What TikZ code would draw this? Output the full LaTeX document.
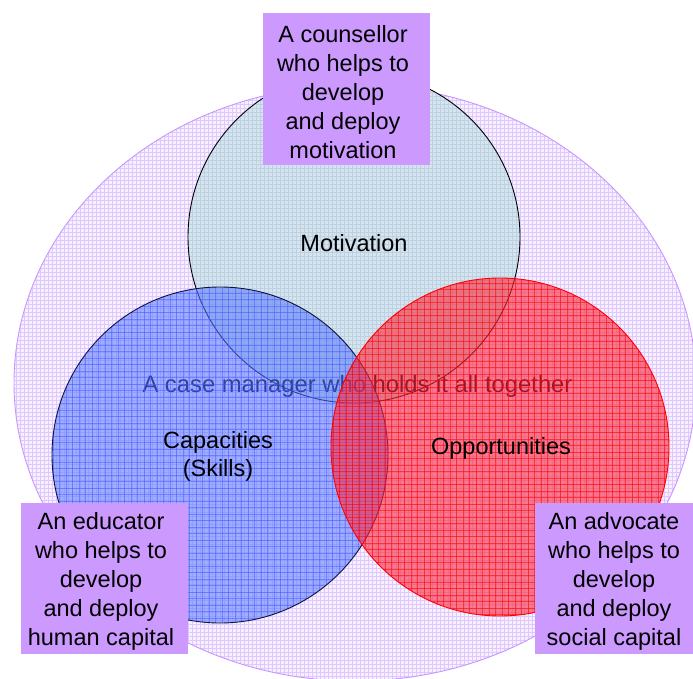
\documentclass[tikz,border=0pt]{standalone}
\usepackage{fontspec}
\setmainfont{Liberation Sans}
\definecolor{boxc}{RGB}{204,153,255}
\definecolor{ellfill}{RGB}{246,240,255}
\definecolor{ellgrid}{RGB}{222,200,255}
\definecolor{ellline}{RGB}{200,150,255}
\definecolor{motfill}{RGB}{214,228,238}
\definecolor{motgrid}{RGB}{188,210,228}
\definecolor{capfill}{RGB}{90,120,255}
\definecolor{capgrid}{RGB}{60,90,255}
\definecolor{oppfill}{RGB}{255,40,60}
\definecolor{oppgrid}{RGB}{255,0,0}
\definecolor{casetext}{RGB}{0,0,30}
\begin{document}
\begin{tikzpicture}[x=1pt,y=-1pt,
  boxrect/.style={fill=boxc, draw=none, inner sep=0pt, minimum width=167pt, minimum height=152pt},
  boxtxt/.style={align=center, inner sep=0pt, font=\fontsize{23.5}{29}\selectfont, text=black},
  lbl/.style={align=center, inner sep=0pt, font=\fontsize{23.5}{28}\selectfont, text=black}]
\useasboundingbox (0,0) rectangle (693,679);
\clip (0,0) rectangle (693,679);

% big ellipse
\begin{scope}
  \clip (355,383) ellipse [x radius=341, y radius=298];
  \fill[ellfill] (0,0) rectangle (700,700);
  \foreach \i in {0,4,...,700} {
    \draw[ellgrid, line width=0.5pt] (\i,0) -- (\i,700);
    \draw[ellgrid, line width=0.5pt] (0,\i) -- (700,\i);
  }
\end{scope}
\draw[ellline, line width=0.9pt] (355,383) ellipse [x radius=341, y radius=298];

% Motivation circle
\begin{scope}
  \clip (354,237) circle [radius=166];
  \fill[motfill] (180,60) rectangle (530,410);
  \foreach \i in {0,4,...,360} {
    \draw[motgrid, line width=0.4pt] (180+\i,60) -- (180+\i,410);
    \draw[motgrid, line width=0.4pt] (180,60+\i) -- (530,60+\i);
  }
\end{scope}
\draw[black, line width=0.9pt] (354,237) circle [radius=166];

% case manager text (under the lower circles)
\node[inner sep=0pt, anchor=base, text=casetext, font=\fontsize{23.8}{28}\selectfont] (case) at (357.5,392) {A case manager who holds it all together};

% Capacities circle (blue)
\begin{scope}
  \clip (220,455) circle [radius=168];
  \fill[capfill, opacity=0.55] (40,280) rectangle (400,630);
  \foreach \i in {0,6.5,...,360} {
    \draw[capgrid, opacity=0.5, line width=0.7pt] (40+\i,280) -- (40+\i,630);
    \draw[capgrid, opacity=0.5, line width=0.7pt] (40,280+\i) -- (400,280+\i);
  }
\end{scope}
\draw[black!85!blue, opacity=0.9, line width=0.9pt] (220,455) circle [radius=168];

% Opportunities circle (red)
\begin{scope}
  \clip (500,447) circle [radius=169];
  \fill[oppfill, opacity=0.6] (320,270) rectangle (680,625);
  \foreach \i in {0,6.5,...,360} {
    \draw[oppgrid, opacity=0.55, line width=0.7pt] (320+\i,270) -- (320+\i,625);
    \draw[oppgrid, opacity=0.55, line width=0.7pt] (320,270+\i) -- (680,270+\i);
  }
\end{scope}
\draw[red, line width=0.9pt] (500,447) circle [radius=169];

% circle labels
\node[lbl] (mot) at (354,243) {Motivation};
\node[lbl] (cap) at (218,456) {Capacities\\(Skills)};
\node[lbl] (opp) at (501,448) {Opportunities};

% boxes
\node[boxrect] (cbox) at (346.5,89) {};
\node[boxtxt] (ctxt) at (343,92) {A counsellor\\who helps to\\develop\\and deploy\\ motivation};

\node[boxrect, minimum height=151pt] (ebox) at (104.5,578.5) {};
\node[boxtxt] (etxt) at (101,581) {An educator\\who helps to\\develop\\and deploy\\human capital};

\node[boxrect, minimum width=160pt, minimum height=151pt] (abox) at (615,578.5) {};
\node[boxtxt] (atxt) at (614,581) {An advocate\\who helps to\\develop\\and deploy\\ social capital};
\end{tikzpicture}
\end{document}
